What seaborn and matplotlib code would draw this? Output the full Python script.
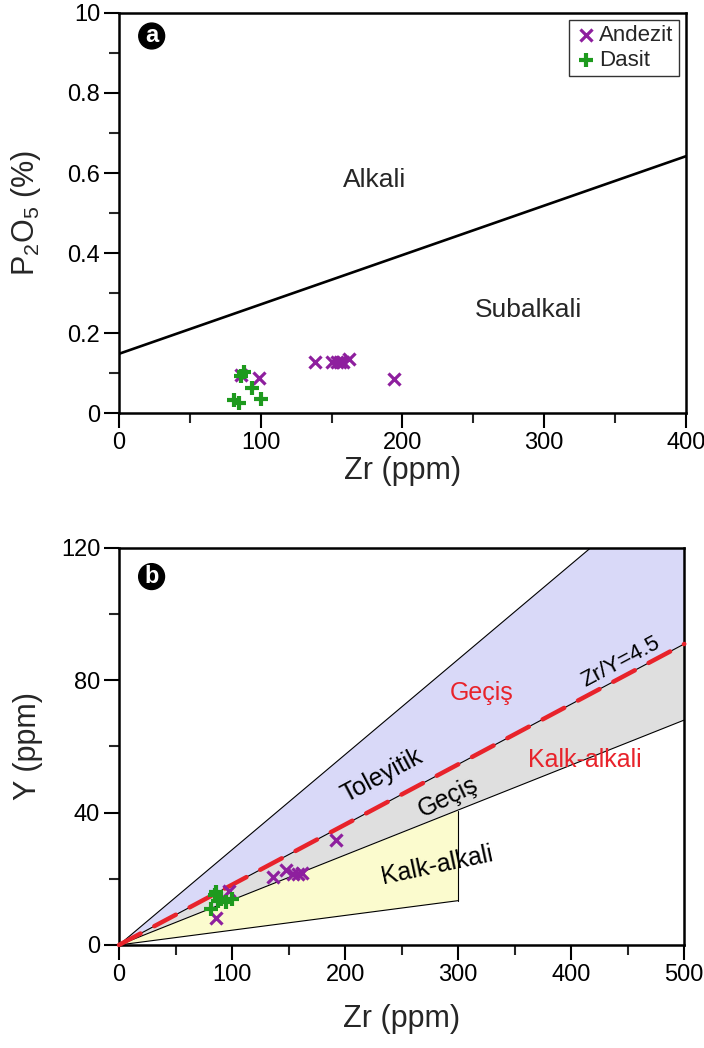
import numpy as np
import matplotlib
matplotlib.use("Agg")
import matplotlib.pyplot as plt
import seaborn as sns
from matplotlib.ticker import MultipleLocator, FixedLocator, FixedFormatter

# ---------------- data ----------------
# Panel a: Zr (ppm) vs P2O5 (%)
a_andezit_zr = [86, 99, 138, 150, 154, 156, 158, 162, 194]
a_andezit_p2o5 = [0.095, 0.088, 0.127, 0.127, 0.127, 0.127, 0.127, 0.136, 0.085]
a_dasit_zr = [81, 85, 86, 88, 94, 100]
a_dasit_p2o5 = [0.033, 0.024, 0.092, 0.102, 0.063, 0.035]
a_boundary_zr = [0, 400]
a_boundary_p2o5 = [0.148, 0.642]
a_yticks = [0, 0.2, 0.4, 0.6, 0.8, 1.0]
a_yticklabels = ["0", "0.2", "0.4", "0.6", "0.8", "10"]

# Panel b: Zr (ppm) vs Y (ppm)
b_andezit_zr = [86, 97, 136, 148, 154, 158, 162, 192]
b_andezit_y = [8.2, 16.4, 20.4, 22.7, 21.4, 21.4, 21.7, 31.8]
b_dasit_zr = [81, 85, 86, 88, 90, 95, 100]
b_dasit_y = [10.9, 15.0, 16.0, 13.4, 14.0, 13.0, 13.8]

thol_line_zr = [0, 417]
thol_line_y = [0, 120]
mid_line_zr = [0, 500]
mid_line_y = [0, 91]
calc_line_zr = [0, 500]
calc_line_y = [0, 68]
yellow_low_zr = [0, 300]
yellow_low_y = [0, 13.4]
yellow_edge_zr = [300, 300]
yellow_edge_y = [13.4, 40.6]

blue_zr = [0, 417, 500, 500]
blue_y = [0, 120, 120, 91]
grey_zr = [0, 500, 500]
grey_y = [0, 91, 68]
yellow_zr = [0, 300, 300]
yellow_y = [0, 40.6, 13.4]

# ---------------- style ----------------
sns.set_theme(style="ticks")
plt.rcParams["font.family"] = ["Liberation Sans", "DejaVu Sans"]
plt.rcParams["mathtext.fontset"] = "custom"
plt.rcParams["mathtext.rm"] = "Liberation Sans"
plt.rcParams["mathtext.it"] = "Liberation Sans:italic"

PURPLE = "#8E1F9E"
GREEN = "#1E9A1E"
RED = "#E8232B"
TICK_FS = 17
LABEL_FS = 22
REGION_FS = 19
B_FS = 18

fig = plt.figure(figsize=(7.04, 10.48), dpi=100)
ax1 = fig.add_axes([0.1690, 0.6059, 0.8054, 0.3817])
ax2 = fig.add_axes([0.1690, 0.0983, 0.8030, 0.3788])


def style_axes(ax):
    for s in ax.spines.values():
        s.set_visible(True)
        s.set_linewidth(1.8)
        s.set_color("black")
    ax.tick_params(which="major", direction="out", length=10.5, width=1.5,
                   labelsize=TICK_FS, colors="black", pad=3)
    ax.tick_params(which="minor", direction="out", length=7, width=1.5)
    ax.grid(False)
    ax.set_facecolor("white")


# ---------------- panel a ----------------
ax1.plot(a_boundary_zr, a_boundary_p2o5, color="black", lw=1.9, zorder=2)
sns.scatterplot(x=a_andezit_zr, y=a_andezit_p2o5, marker="x", color=PURPLE,
                s=75, linewidth=2.3, ax=ax1, label="Andezit", zorder=4)
sns.scatterplot(x=a_dasit_zr, y=a_dasit_p2o5, marker="+", color=GREEN,
                s=115, linewidth=3.0, ax=ax1, label="Dasit", zorder=5)
ax1.set_xlim(0, 400)
ax1.set_ylim(0, 1.0)
ax1.xaxis.set_major_locator(MultipleLocator(100))
ax1.xaxis.set_minor_locator(MultipleLocator(50))
ax1.yaxis.set_major_locator(FixedLocator(a_yticks))
ax1.yaxis.set_major_formatter(FixedFormatter(a_yticklabels))
ax1.yaxis.set_minor_locator(MultipleLocator(0.1))
style_axes(ax1)
ax1.set_xlabel("Zr (ppm)", fontsize=LABEL_FS)
ax1.set_ylabel(r"P$_2$O$_5$ (%)", fontsize=LABEL_FS)
ax1.xaxis.set_label_coords(0.5, -0.108)
ax1.yaxis.set_label_coords(-0.134, 0.5)
ax1.text(180, 0.583, "Alkali", fontsize=REGION_FS, ha="center", va="center")
ax1.text(289, 0.257, "Subalkali", fontsize=REGION_FS, ha="center", va="center")
leg = ax1.legend(loc="upper right", frameon=True, fancybox=False,
                 edgecolor="black", fontsize=16, handletextpad=0.1,
                 borderpad=0.25, handlelength=1.0, labelspacing=0.15,
                 borderaxespad=0.3)
leg.get_frame().set_linewidth(1.0)
ax1.text(0.0577, 0.9425, "a", transform=ax1.transAxes, fontsize=17,
         fontweight="bold", color="white", ha="center", va="center",
         bbox=dict(boxstyle="circle,pad=0.06", fc="black", ec="black"))

# ---------------- panel b ----------------
ax2.fill(blue_zr, blue_y, color="#D9D9F8", lw=0, zorder=1)
ax2.fill(grey_zr, grey_y, color="#DFDFDF", lw=0, zorder=1)
ax2.fill(yellow_zr, yellow_y, color="#FBFBCE", lw=0, zorder=1)
for xs, ys in [(thol_line_zr, thol_line_y), (mid_line_zr, mid_line_y),
               (calc_line_zr, calc_line_y), (yellow_low_zr, yellow_low_y),
               (yellow_edge_zr, yellow_edge_y)]:
    ax2.plot(xs, ys, color="black", lw=0.8, zorder=2)
ax2.plot(mid_line_zr, mid_line_y, color=RED, lw=3.2, ls=(0, (5.5, 3.5)),
         dash_capstyle="round", zorder=3, clip_on=False)
sns.scatterplot(x=b_andezit_zr, y=b_andezit_y, marker="x", color=PURPLE,
                s=75, linewidth=2.3, ax=ax2, zorder=4)
sns.scatterplot(x=b_dasit_zr, y=b_dasit_y, marker="+", color=GREEN,
                s=115, linewidth=3.0, ax=ax2, zorder=5)
ax2.set_xlim(0, 500)
ax2.set_ylim(0, 120)
ax2.xaxis.set_major_locator(MultipleLocator(100))
ax2.xaxis.set_minor_locator(MultipleLocator(50))
ax2.yaxis.set_major_locator(MultipleLocator(40))
ax2.yaxis.set_minor_locator(MultipleLocator(20))
style_axes(ax2)
ax2.set_xlabel("Zr (ppm)", fontsize=LABEL_FS)
ax2.set_ylabel("Y (ppm)", fontsize=LABEL_FS)
ax2.xaxis.set_label_coords(0.5, -0.148)
ax2.yaxis.set_label_coords(-0.134, 0.5)

ax2.text(321, 76.3, "Geçiş", color=RED, fontsize=B_FS, ha="center", va="center")
ax2.text(412, 55.9, "Kalk-alkali", color=RED, fontsize=B_FS, ha="center", va="center")
ax2.text(448, 82.6, "Zr/Y=4.5", color="black", fontsize=16, ha="center",
         va="bottom", rotation=28, rotation_mode="anchor")
ax2.text(233, 51.1, "Toleyitik", color="black", fontsize=B_FS, ha="center",
         va="center", rotation=28, rotation_mode="anchor")
ax2.text(291, 44.6, "Geçiş", color="black", fontsize=B_FS, ha="center",
         va="center", rotation=26, rotation_mode="anchor")
ax2.text(281, 24.0, "Kalk-alkali", color="black", fontsize=B_FS, ha="center",
         va="center", rotation=12, rotation_mode="anchor")
ax2.text(0.0577, 0.928, "b", transform=ax2.transAxes, fontsize=17,
         fontweight="bold", color="white", ha="center", va="center",
         bbox=dict(boxstyle="circle,pad=0.06", fc="black", ec="black"))

fig.savefig("out.png", dpi=100, facecolor="white")
